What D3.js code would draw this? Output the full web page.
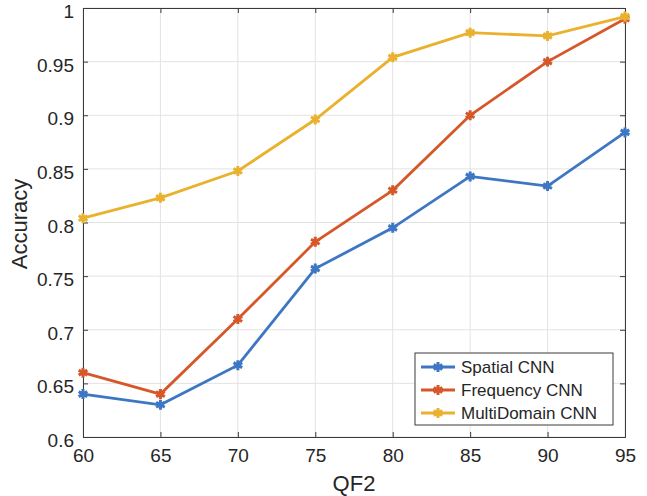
<!DOCTYPE html>
<html>
<head>
<meta charset="utf-8">
<script src="https://cdn.jsdelivr.net/npm/d3@7"></script>
<style>
  body { margin: 0; background: #fff; }
  text { font-family: "Liberation Sans", Arial, Helvetica, sans-serif; fill: #262626; }
</style>
</head>
<body>
<svg id="chart" width="647" height="496"></svg>
<script>
// data
var qf2 = [60, 65, 70, 75, 80, 85, 90, 95];
var spatialCNN = [0.640, 0.630, 0.667, 0.757, 0.795, 0.843, 0.834, 0.884];
var frequencyCNN = [0.660, 0.640, 0.710, 0.782, 0.830, 0.900, 0.950, 0.990];
var multiDomainCNN = [0.804, 0.823, 0.848, 0.896, 0.954, 0.977, 0.974, 0.992];
var seriesNames = ["Spatial CNN", "Frequency CNN", "MultiDomain CNN"];
var yTicks = [0.6, 0.65, 0.7, 0.75, 0.8, 0.85, 0.9, 0.95, 1];

var colors = ["#3d77c4", "#d6582a", "#eab12f"];
var allSeries = [spatialCNN, frequencyCNN, multiDomainCNN];

var svg = d3.select("#chart");
// plot box (window.top is reserved, so own names)
var plotL = 83, plotR = 625, plotT = 8, plotB = 437;

var x = d3.scaleLinear().domain([60, 95]).range([plotL, plotR]);
var y = d3.scaleLinear().domain([0.6, 1]).range([plotB, plotT]);

// grid
var grid = svg.append("g");
grid.selectAll("line.gx").data(qf2).enter().append("line")
    .attr("x1", function (d) { return x(d); }).attr("x2", function (d) { return x(d); })
    .attr("y1", plotT).attr("y2", plotB)
    .style("stroke", "#e3e3e3").style("stroke-width", 1);
grid.selectAll("line.gy").data(yTicks).enter().append("line")
    .attr("x1", plotL).attr("x2", plotR)
    .attr("y1", function (d) { return y(d); }).attr("y2", function (d) { return y(d); })
    .style("stroke", "#e3e3e3").style("stroke-width", 1);

// axes (MATLAB box style: ticks inside on all four sides)
var axisColor = "#3a3a3a";
var xAxis = svg.append("g").attr("transform", "translate(0," + plotB + ")")
    .call(d3.axisBottom(x).tickValues(qf2).tickSize(-5).tickPadding(12).tickFormat(d3.format("d")));
var yAxis = svg.append("g").attr("transform", "translate(" + plotL + ",0)")
    .call(d3.axisLeft(y).tickValues(yTicks).tickSize(-5).tickPadding(9).tickFormat(function (d) { return String(+d.toFixed(2)); }));
var xTop = svg.append("g").attr("transform", "translate(0," + plotT + ")")
    .call(d3.axisTop(x).tickValues(qf2).tickSize(-5).tickFormat(""));
var yRight = svg.append("g").attr("transform", "translate(" + plotR + ",0)")
    .call(d3.axisRight(y).tickValues(yTicks).tickSize(-5).tickFormat(""));

[xAxis, yAxis, xTop, yRight].forEach(function (g) {
    g.selectAll("path.domain").style("stroke", axisColor).style("stroke-width", 1);
    g.selectAll(".tick line").style("stroke", axisColor);
    g.selectAll(".tick text").style("font-size", "19px").style("fill", "#262626")
        .style("font-family", "'Liberation Sans', Arial, sans-serif");
});
// y labels sit a little below their ticks in the original
yAxis.selectAll(".tick text").attr("dy", "0.5em");

// axis labels
svg.append("text").attr("x", (plotL + plotR) / 2).attr("y", 491)
    .attr("text-anchor", "middle").style("font-size", "22px").text("QF2");
svg.append("text").attr("transform", "translate(27,224) rotate(-90)")
    .attr("text-anchor", "middle").style("font-size", "22px").text("Accuracy");

// lines + markers
var line = d3.line()
    .x(function (d, i) { return x(qf2[i]); })
    .y(function (d) { return y(d); });
var star = d3.symbol().type(d3.symbolAsterisk).size(70);

allSeries.forEach(function (vals, s) {
    svg.append("path").datum(vals)
        .attr("d", line)
        .style("fill", "none")
        .style("stroke", colors[s])
        .style("stroke-width", 2.8);
    svg.selectAll("path.m" + s).data(vals).enter().append("path")
        .attr("class", "m" + s)
        .attr("transform", function (d, i) { return "translate(" + x(qf2[i]) + "," + y(d) + ")"; })
        .attr("d", star)
        .style("fill", "none")
        .style("stroke", colors[s])
        .style("stroke-width", 3);
});

// legend
var lg = svg.append("g");
lg.append("rect").attr("x", 415).attr("y", 353).attr("width", 198).attr("height", 72)
    .style("fill", "#fff").style("stroke", axisColor).style("stroke-width", 1);
seriesNames.forEach(function (name, s) {
    var ly = 367 + s * 23;
    lg.append("line").attr("x1", 421).attr("x2", 455).attr("y1", ly).attr("y2", ly)
        .style("stroke", colors[s]).style("stroke-width", 2.8);
    lg.append("path").attr("transform", "translate(438," + ly + ")").attr("d", star)
        .style("fill", "none").style("stroke", colors[s]).style("stroke-width", 3);
    lg.append("text").attr("x", 461).attr("y", ly + 6).style("font-size", "17px").text(name);
});
</script>
</body>
</html>
